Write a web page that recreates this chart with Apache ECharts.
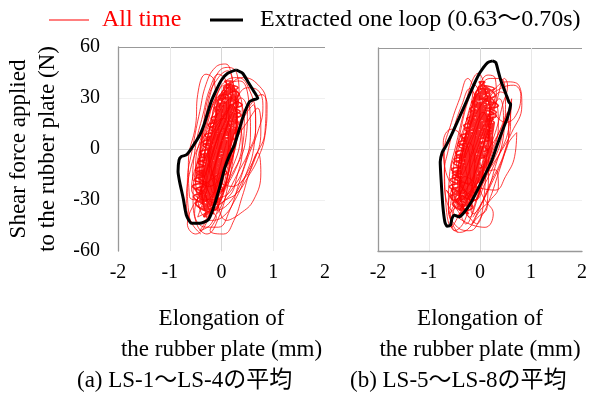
<!DOCTYPE html>
<html>
<head>
<meta charset="utf-8">
<script src="https://cdn.jsdelivr.net/npm/echarts@6/dist/echarts.min.js"></script>
</head>
<body style="margin:0;background:#fff;">
<div id="chart" style="width:590px;height:394px;"></div>
<script type="text/javascript">
// axis ticks (mm / N)
var xTicks = [-2, -1, 0, 1, 2];
var yTicks = [-60, -30, 0, 30, 60];
var panelNames = ['(a) LS-1～LS-4の平均', '(b) LS-5～LS-8の平均'];

// black loop, 0.63-0.70 s, panel (a)
var leftLoop = [
  [0.28,46.5],[0.41,44.5],[0.51,39.6],[0.63,33.7],[0.70,29.8],[0.60,28.8],[0.54,27.8],[0.44,21],[0.35,12.2],
  [0.25,2.4],[0.15,-4],[0.06,-11.4],[-0.04,-23],[-0.17,-35.9],[-0.26,-41.8],[-0.42,-43.7],[-0.58,-43.7],
  [-0.68,-38.8],[-0.74,-29],[-0.81,-19.2],[-0.84,-13.3],[-0.82,-6.5],[-0.78,-4.5],[-0.68,-3.5],[-0.58,0.4],
  [-0.42,8.2],[-0.33,15],[-0.2,27.8],[-0.10,34.7],[0.0,40.6],[0.12,44.5],[0.28,46.5]
];
// black loop, panel (b)
var rightLoop = [
  [0.25,52.4],[0.31,51.4],[0.36,46],[0.41,40.6],[0.51,32.7],[0.57,27.8],[0.60,26.9],[0.54,19],[0.44,11.2],
  [0.33,2],[0.22,-7.4],[0.03,-19.2],[-0.17,-31],[-0.33,-37.8],[-0.42,-39.8],[-0.50,-38.8],[-0.55,-40.8],
  [-0.58,-44.7],[-0.65,-45.3],[-0.69,-42.7],[-0.73,-32.9],[-0.76,-19.2],[-0.78,-7.4],[-0.74,-1.6],[-0.68,1.4],
  [-0.55,9.2],[-0.39,20],[-0.23,30.8],[-0.10,39.6],[0.0,45.5],[0.15,51.4],[0.25,52.4]
];

// all time trace, panel (a): outer loops
var leftAll = [
  [-0.40,-50],[-0.62,-40],[-0.66,-20],[-0.55,2],[-0.42,22],[-0.30,38],[-0.12,48],[0.08,50],[0.2,42],[0.28,25],[0.25,2],[0.12,-22],[-0.05,-40],[-0.28,-50],
  [-0.48,-44],[-0.55,-28],[-0.46,-6],[-0.3,14],[-0.12,30],[0.08,40],[0.32,42],[0.55,34],[0.66,18],[0.62,0],[0.46,-16],[0.26,-30],[0.02,-40],[-0.22,-42],
  [-0.32,-36],[-0.42,-18],[-0.34,4],[-0.14,22],[0.12,36],[0.42,42],[0.7,38],[0.86,28],[0.84,10],[0.66,-4],[0.42,-18],[0.14,-32],[-0.1,-36],
  [-0.22,-28],[-0.34,-12],[-0.28,6],[-0.12,20],[0.06,30],[0.26,34],[0.4,24],[0.36,4],[0.2,-12],[0.02,-26],[-0.16,-34],
  [-0.3,-40],[-0.46,-30],[-0.5,-10],[-0.36,10],[-0.12,28],[0.14,36],[0.3,22],[0.24,0],[0.08,-20],[-0.08,-34],
  [-0.5,-44],[-0.68,-32],[-0.6,-12],[-0.4,4],[-0.16,14],[0.04,18],[0.18,8],[0.14,-12],[-0.02,-30],[-0.2,-44],[-0.42,-48],
  [-0.12,-26],[-0.24,-10],[-0.18,10],[-0.02,26],[0.16,38],[0.36,40],[0.52,30],[0.56,10],[0.44,-10],[0.24,-22],[0.04,-28],
  [-0.34,-30],[-0.38,-14],[-0.24,0],[-0.08,12],[0.12,22],[0.3,28],[0.44,18],[0.38,-2],[0.18,-16],[-0.06,-28],
  [0.0,-20],[0.12,-2],[0.32,14],[0.56,26],[0.78,32],[0.88,26],[0.84,8],[0.7,-6],[0.52,-16],[0.3,-26],[0.08,-30],
  [-0.2,-36],[-0.3,-20],[-0.2,-4],[-0.02,10],[0.14,24],[0.22,38],[0.12,46],[-0.06,42],[-0.26,30],[-0.36,10],[-0.42,-10],[-0.36,-30],
  [-0.58,-24],[-0.44,-6],[-0.2,8],[0.0,18],[0.2,26],[0.3,18],[0.2,-2],[0.0,-16],[-0.2,-28],[-0.44,-34],
  [-0.1,-40],[-0.22,-48],[0.04,-50],[0.24,-42],[0.4,-28],[0.56,-12],[0.7,-2],[0.76,-14],[0.62,-30],[0.36,-38],[0.1,-42],
  [-0.16,-16],[-0.26,0],[-0.16,14],[0.0,24],[0.2,30],[0.3,20],[0.2,4],[0.04,-10],[-0.1,-20],
  [-0.3,-22],[-0.2,-6],[-0.06,8],[0.1,20],[0.06,30],[-0.1,28],[-0.2,16],[-0.3,0],[-0.36,-16],
  [-0.06,-32],[-0.16,-20],[-0.1,-6],[0.04,8],[0.2,16],[0.36,14],[0.4,0],[0.3,-16],[0.14,-28],
  [-0.46,-40],[-0.3,-26],[-0.16,-12],[0.0,4],[0.14,20],[0.1,32],[-0.1,30],[-0.26,16],[-0.42,-4],[-0.52,-24],
  [0.1,-10],[0.26,4],[0.5,16],[0.7,24],[0.76,10],[0.62,-8],[0.42,-18],[0.2,-22],
  [-0.2,-12],[-0.1,0],[0.04,12],[0.14,8],[0.1,-6],[-0.04,-16],[-0.16,-26],[-0.26,-20],
  [-0.56,-18],[-0.5,2],[-0.36,20],[-0.22,36],[-0.06,44],[0.1,38],[0.0,20],[-0.14,0],[-0.3,-14],[-0.5,-30],
  [-0.62,-28],[-0.64,-8],[-0.5,14],[-0.46,32],[-0.3,44],[-0.14,40],[-0.1,20],[-0.2,0],[-0.36,-20],[-0.52,-38],
  [-0.3,-46],[-0.06,-46],[0.16,-36],[0.34,-20],[0.52,-4],[0.7,10],[0.8,24],[0.72,34],[0.5,36],[0.3,30],[0.12,16],
  [-0.04,0],[-0.2,-16],[-0.38,-26],[-0.56,-34],[-0.66,-44],[-0.5,-50],[-0.3,-44],
  [-0.18,-30],[-0.06,-14],[0.08,2],[0.22,18],[0.34,32],[0.3,44],[0.14,48],[-0.04,46],[-0.18,36],[-0.3,20],[-0.4,2],[-0.44,-18],
  [-0.2,-22],[-0.1,-8],[0.06,8],[0.22,22],[0.38,30],[0.5,22],[0.46,4],[0.3,-10],[0.1,-22],[-0.1,-32],
  [-0.36,-24],[-0.3,-8],[-0.14,6],[0.02,18],[0.18,28],[0.14,38],[-0.02,36],[-0.16,22],[-0.28,4],[-0.38,-12],
  [-0.12,-36],[0.02,-24],[0.14,-8],[0.28,8],[0.46,20],[0.62,26],[0.66,12],[0.52,-2],[0.32,-14],[0.12,-26],[-0.08,-38]
];
// all time trace, panel (a): dense middle band
var leftCore = [
  [-0.26,-28],[-0.3,-10],[-0.16,8],[0.04,24],[0.2,30],[0.24,14],[0.1,-6],[-0.06,-22],
  [-0.2,-20],[-0.26,-4],[-0.1,10],[0.1,22],[0.2,16],[0.1,-2],[-0.04,-16],[-0.16,-26],
  [-0.3,-24],[-0.2,-8],[0.0,12],[0.14,26],[0.1,34],[-0.04,20],[-0.16,0],[-0.28,-18],
  [-0.1,-30],[-0.2,-14],[-0.1,4],[0.06,18],[0.24,24],[0.3,10],[0.16,-10],[0.0,-24],
  [-0.14,-18],[-0.04,-2],[0.1,14],[0.0,22],[-0.14,10],[-0.22,-4],[-0.26,-22],[-0.1,-28],
  [0.0,-12],[0.14,4],[0.2,20],[0.06,12],[-0.1,-4],[-0.2,-18],[-0.06,-22],
  [-0.24,-14],[-0.12,2],[0.02,16],[0.12,28],[0.0,32],[-0.12,18],[-0.22,2],[-0.32,-14],[-0.18,-32],
  [-0.04,-14],[0.08,0],[0.22,12],[0.12,-4],[-0.02,-18],[-0.14,-30],[-0.28,-32],[-0.18,-16],[-0.06,-4],
  [-0.42,-30],[-0.1,-26],[-0.36,-20],[-0.04,-16],[-0.3,-10],[0.02,-6],[-0.24,0],[0.08,4],[-0.18,10],[0.14,14],[-0.1,20],[0.2,24],[-0.04,30],[0.24,34],
  [0.3,30],[0.0,26],[0.26,20],[-0.06,16],[0.2,10],[-0.12,6],[0.14,0],[-0.18,-4],[0.08,-10],[-0.24,-14],[0.02,-20],[-0.3,-24],[-0.04,-30],[-0.36,-34],
  [-0.2,-36],[-0.44,-26],[-0.14,-22],[-0.38,-14],[-0.08,-12],[-0.3,-4],[-0.02,-2],[-0.22,6],[0.06,8],[-0.14,16],[0.12,18],[-0.06,26],[0.18,28],[0.04,36],
  [0.16,38],[0.32,26],[0.04,22],[0.28,16],[-0.02,12],[0.22,6],[-0.08,2],[0.16,-4],[-0.14,-8],[0.1,-14],[-0.2,-18],[0.04,-24],[-0.26,-28],[-0.06,-34],[-0.32,-38],
  [-0.34,-40],[-0.16,-32],[-0.4,-24],[-0.12,-18],[-0.34,-12],[-0.04,-8],[-0.26,-2],[0.04,2],[-0.2,8],[0.12,12],[-0.12,18],[0.18,22],[-0.08,28],[0.22,32],[0.06,40],
  [0.2,40],[0.0,32],[0.28,28],[0.02,22],[0.24,18],[-0.04,14],[0.18,8],[-0.1,4],[0.1,-2],[-0.2,-6],[0.06,-12],[-0.26,-16],[0.0,-22],[-0.32,-26],[-0.1,-32],[-0.4,-30],
  [-0.3,-34],[-0.06,-28],[-0.32,-22],[0.0,-18],[-0.28,-12],[0.06,-8],[-0.2,-4],[0.1,0],[-0.14,6],[0.16,10],[-0.08,16],[0.22,20],[0.0,26],[0.26,30],[0.1,36],
  [0.24,36],[-0.02,30],[0.22,24],[-0.08,20],[0.16,14],[-0.14,10],[0.12,4],[-0.2,0],[0.04,-6],[-0.26,-10],[-0.02,-16],[-0.34,-20],[-0.08,-26],[-0.38,-30],[-0.14,-38],
  [-0.5,-32],[-0.16,-28],[-0.56,-22],[-0.06,-18],[-0.5,-12],[0.04,-8],[-0.42,-2],[0.16,2],[-0.32,8],[0.28,12],[-0.2,18],[0.36,22],[-0.08,28],[0.34,32],[0.12,38],
  [0.32,36],[0.0,32],[0.4,26],[-0.12,22],[0.32,16],[-0.24,12],[0.24,6],[-0.36,2],[0.14,-4],[-0.46,-8],[0.02,-14],[-0.52,-18],[-0.1,-24],[-0.54,-28],[-0.24,-34],
  [-0.42,-30],[-0.08,-24],[-0.48,-16],[0.0,-12],[-0.44,-6],[0.1,-2],[-0.36,4],[0.22,8],[-0.26,14],[0.3,18],[-0.14,24],[0.32,28],[0.06,34],
  [0.24,34],[-0.08,28],[0.38,20],[-0.18,16],[0.28,10],[-0.3,6],[0.18,0],[-0.4,-4],[0.08,-10],[-0.48,-14],[-0.02,-20],[-0.5,-24],[-0.16,-30]
];

// all time trace, panel (b): outer loops
var rightAll = [
  [-0.44,-49],[-0.62,-36],[-0.6,-16],[-0.46,4],[-0.3,24],[-0.16,40],[-0.04,45],[0.1,36],[0.2,16],[0.1,-8],[-0.08,-30],[-0.28,-44],
  [-0.36,-40],[-0.54,-28],[-0.5,-6],[-0.3,14],[-0.06,32],[0.2,42],[0.4,42],[0.5,30],[0.46,8],[0.3,-10],[0.1,-28],[-0.14,-38],
  [-0.2,-30],[-0.38,-16],[-0.3,4],[-0.06,22],[0.24,34],[0.52,40],[0.76,38],[0.82,26],[0.62,10],[0.36,-4],[0.1,-20],[-0.1,-30],
  [-0.68,-12],[-0.72,4],[-0.56,12],[-0.36,8],[-0.2,-6],[-0.3,-20],[-0.5,-30],[-0.66,-24],
  [-0.3,-36],[-0.44,-20],[-0.36,0],[-0.16,18],[0.04,30],[0.2,26],[0.16,6],[0.0,-14],[-0.16,-30],
  [0.0,-20],[0.1,-6],[0.3,10],[0.44,26],[0.54,38],[0.48,42],[0.34,30],[0.2,14],[0.04,0],[-0.1,-14],
  [-0.56,-44],[-0.4,-49],[-0.2,-46],[0.0,-36],[0.2,-30],[0.36,-22],[0.3,-12],[0.1,-14],[-0.14,-24],[-0.4,-36],
  [-0.24,-20],[-0.3,-6],[-0.14,10],[0.06,22],[0.16,14],[0.06,-6],[-0.1,-20],[-0.2,-28],
  [-0.46,-6],[-0.36,14],[-0.22,30],[-0.1,38],[0.0,26],[-0.1,6],[-0.26,-10],[-0.4,-20],
  [-0.1,-28],[-0.2,-12],[-0.04,6],[0.16,20],[0.3,28],[0.36,14],[0.2,-6],[0.04,-20],
  [0.1,-4],[0.3,6],[0.5,18],[0.62,30],[0.56,12],[0.42,0],[0.22,-10],[0.06,-16],
  [-0.6,-38],[-0.5,-20],[-0.34,-6],[-0.2,4],[-0.1,-10],[-0.2,-26],[-0.4,-38],[-0.56,-46],
  [-0.7,-2],[-0.56,16],[-0.4,30],[-0.24,42],[-0.14,36],[-0.26,18],[-0.4,2],[-0.56,-10],
  [0.3,-24],[0.5,-16],[0.68,-4],[0.72,10],[0.56,4],[0.4,-8],[0.2,-20],[0.0,-34],[-0.16,-44],[-0.04,-40],[0.14,-34],
  [0.2,30],[0.4,36],[0.66,38],[0.8,32],[0.7,20],[0.5,16],[0.3,20],
  [-0.06,-44],[-0.26,-38],[-0.4,-26],[-0.3,-16],[-0.1,-20],[0.1,-30],[0.26,-38],[0.1,-46],
  [-0.66,-30],[-0.7,-14],[-0.62,0],[-0.5,14],[-0.36,26],[-0.2,36],[-0.1,30],[-0.2,12],[-0.36,-4],[-0.52,-20],[-0.62,-34],
  [-0.44,-46],[-0.2,-48],[0.02,-40],[0.18,-30],[0.34,-16],[0.5,0],[0.6,16],[0.56,30],[0.4,34],[0.24,26],[0.08,12],
  [-0.08,-2],[-0.24,-16],[-0.42,-28],[-0.58,-40],[-0.5,-48],[-0.3,-42],
  [-0.18,-26],[-0.06,-10],[0.08,4],[0.2,18],[0.32,32],[0.3,42],[0.16,44],[0.02,40],[-0.12,28],[-0.24,14],[-0.34,-2],[-0.4,-18],
  [-0.2,-20],[-0.08,-6],[0.08,8],[0.22,22],[0.38,30],[0.46,20],[0.4,4],[0.24,-8],[0.06,-20],[-0.12,-30],
  [-0.4,-24],[-0.32,-8],[-0.18,4],[-0.02,16],[0.12,26],[0.06,36],[-0.08,34],[-0.2,20],[-0.32,4],[-0.42,-12],
  [-0.2,-40],[-0.04,-28],[0.1,-14],[0.24,0],[0.4,12],[0.54,22],[0.56,8],[0.44,-6],[0.26,-18],[0.06,-30],[-0.14,-40]
];
// all time trace, panel (b): dense middle band
var rightCore = [
  [-0.3,-26],[-0.24,-8],[-0.1,8],[0.06,20],[0.12,12],[0.0,-6],[-0.16,-18],[-0.26,-28],
  [-0.2,-14],[-0.1,0],[0.06,16],[0.14,26],[0.04,28],[-0.1,14],[-0.2,0],[-0.3,-12],
  [-0.36,-20],[-0.2,-4],[0.0,10],[0.2,18],[0.24,4],[0.1,-10],[-0.1,-22],[-0.3,-30],
  [-0.14,-26],[-0.04,-8],[0.1,4],[0.0,-2],[-0.14,-10],[-0.26,-20],[-0.1,-30],[0.0,-22],
  [-0.26,-6],[-0.1,10],[0.06,28],[-0.04,32],[-0.16,18],[-0.26,2],[-0.36,-10],[-0.2,-12],
  [-0.16,-34],[-0.24,-20],[-0.12,-6],[0.02,8],[0.16,14],[0.2,0],[0.06,-14],[-0.06,-24],
  [-0.3,-16],[-0.18,0],[-0.04,14],[0.08,24],[-0.02,20],[-0.14,6],[-0.24,-8],[-0.34,-22],
  [0.0,-4],[0.12,8],[0.28,16],[0.18,0],[0.04,-12],[-0.12,-20],[-0.22,-12],[-0.08,2],
  [-0.5,-30],[-0.2,-26],[-0.44,-20],[-0.14,-16],[-0.38,-10],[-0.08,-6],[-0.32,0],[-0.02,4],[-0.26,10],[0.04,14],[-0.18,20],[0.1,24],[-0.12,30],[0.14,34],
  [0.2,30],[-0.08,26],[0.16,20],[-0.14,16],[0.1,10],[-0.2,6],[0.04,0],[-0.26,-4],[-0.02,-10],[-0.32,-14],[-0.08,-20],[-0.38,-24],[-0.12,-30],[-0.44,-34],
  [-0.28,-36],[-0.52,-26],[-0.22,-22],[-0.46,-14],[-0.16,-12],[-0.38,-4],[-0.1,-2],[-0.3,6],[-0.02,8],[-0.22,16],[0.04,18],[-0.14,26],[0.1,28],[-0.04,36],
  [0.06,38],[0.22,26],[-0.06,22],[0.18,16],[-0.1,12],[0.12,6],[-0.16,2],[0.06,-4],[-0.22,-8],[0.0,-14],[-0.28,-18],[-0.04,-24],[-0.34,-28],[-0.14,-34],[-0.4,-38],
  [-0.42,-40],[-0.24,-32],[-0.48,-24],[-0.2,-18],[-0.42,-12],[-0.12,-8],[-0.34,-2],[-0.04,2],[-0.28,8],[0.02,12],[-0.2,18],[0.08,22],[-0.16,28],[0.12,32],[-0.02,40],
  [0.1,40],[-0.1,32],[0.18,28],[-0.08,22],[0.14,18],[-0.12,14],[0.08,8],[-0.18,4],[0.02,-2],[-0.28,-6],[-0.02,-12],[-0.34,-16],[-0.08,-22],[-0.4,-26],[-0.18,-32],[-0.46,-30],
  [-0.38,-34],[-0.14,-28],[-0.4,-22],[-0.08,-18],[-0.36,-12],[-0.02,-8],[-0.3,-4],[0.02,0],[-0.24,6],[0.08,10],[-0.18,16],[0.12,20],[-0.08,26],[0.16,30],[0.0,36],
  [0.14,36],[-0.12,30],[0.12,24],[-0.16,20],[0.06,14],[-0.22,10],[0.02,4],[-0.28,0],[-0.04,-6],[-0.34,-10],[-0.1,-16],[-0.42,-20],[-0.16,-26],[-0.46,-30],[-0.22,-38],
  [-0.54,-32],[-0.2,-28],[-0.6,-22],[-0.1,-18],[-0.56,-12],[0.0,-8],[-0.48,-2],[0.12,2],[-0.38,8],[0.24,12],[-0.26,18],[0.32,22],[-0.14,28],[0.3,32],[0.06,38],
  [0.28,36],[-0.06,32],[0.36,26],[-0.18,22],[0.28,16],[-0.3,12],[0.2,6],[-0.42,2],[0.1,-4],[-0.52,-8],[-0.02,-14],[-0.58,-18],[-0.14,-24],[-0.58,-28],[-0.3,-34],
  [-0.44,-30],[-0.12,-24],[-0.54,-16],[-0.04,-12],[-0.5,-6],[0.06,-2],[-0.42,4],[0.18,8],[-0.32,14],[0.26,18],[-0.2,24],[0.28,28],[0.0,34],
  [0.2,34],[-0.14,28],[0.32,20],[-0.24,16],[0.24,10],[-0.36,6],[0.14,0],[-0.46,-4],[0.04,-10],[-0.54,-14],[-0.08,-20],[-0.56,-24],[-0.22,-30]
];

var FONT = "'Liberation Serif', 'Times New Roman', 'Noto Sans CJK JP', serif";
var NAME_ALL = 'All time';
var NAME_LOOP = 'Extracted one loop (0.63～0.70s)';

var myChart = echarts.init(document.getElementById('chart'));

function xAxisFor(idx, showLine) {
  return {
    type: 'value', gridIndex: idx,
    min: xTicks[0], max: xTicks[xTicks.length - 1], interval: 1,
    axisLine: { show: showLine, onZero: false, lineStyle: { color: '#999', width: 1.3 } },
    axisTick: { show: false },
    axisLabel: { fontSize: 20, color: '#000', fontFamily: FONT, margin: 12 },
    splitLine: { show: true, lineStyle: { width: 1, color: ['rgba(0,0,0,0)', '#e8e8e8', '#d6d6d6', '#e8e8e8', 'rgba(0,0,0,0)'] } },
    name: 'Elongation of\nthe rubber plate (mm)',
    nameLocation: 'middle', nameGap: 52,
    nameTextStyle: { fontSize: 23, color: '#000', fontFamily: FONT, lineHeight: 31 }
  };
}

function yAxisFor(idx, showLabels) {
  var ax = {
    type: 'value', gridIndex: idx,
    min: yTicks[0], max: yTicks[yTicks.length - 1], interval: 30,
    axisLine: { show: true, onZero: false, lineStyle: { color: '#999', width: 1.3 } },
    axisTick: { show: false },
    axisLabel: { show: showLabels, fontSize: 20, color: '#000', fontFamily: FONT, margin: 18 },
    splitLine: { show: true, lineStyle: { width: 1, color: [idx === 1 ? '#999' : 'rgba(0,0,0,0)', '#f0f0f0', '#d6d6d6', '#f0f0f0', '#999'] } }
  };
  if (showLabels) {
    ax.name = 'Shear force applied\nto the rubber plate (N)';
    ax.nameLocation = 'middle';
    ax.nameRotate = 90;
    ax.nameGap = 56;
    ax.nameTextStyle = { fontSize: 23, color: '#000', fontFamily: FONT, lineHeight: 29 };
  }
  return ax;
}

function redSeries(idx, data, w) {
  return {
    name: NAME_ALL, type: 'line', xAxisIndex: idx, yAxisIndex: idx,
    data: data, showSymbol: false, smooth: 0.45, z: 2, silent: true,
    itemStyle: { color: '#ff0000' },
    lineStyle: { color: '#ff0000', width: w, opacity: 0.85 }
  };
}

function loopSeries(idx, data) {
  return {
    name: NAME_LOOP, type: 'line', xAxisIndex: idx, yAxisIndex: idx,
    data: data, showSymbol: false, smooth: 0.2, z: 3, silent: true,
    itemStyle: { color: '#000' },
    lineStyle: { color: '#000', width: 3 }
  };
}

var option = {
  animation: false,
  backgroundColor: '#fff',
  legend: [
    { left: 49, top: 8, padding: 0, data: [NAME_ALL], icon: 'rect', itemWidth: 40, itemHeight: 1,
      textStyle: { color: '#ff0000', fontSize: 24, fontFamily: FONT, padding: [0, 0, 0, 8] } },
    { left: 210, top: 8, padding: 0, data: [NAME_LOOP], icon: 'rect', itemWidth: 33, itemHeight: 3,
      textStyle: { color: '#000', fontSize: 24, fontFamily: FONT, padding: [0, 0, 0, 12] } }
  ],
  grid: [
    { left: 118, top: 47, width: 207, height: 204 },
    { left: 378, top: 48, width: 205, height: 203 }
  ],
  xAxis: [xAxisFor(0, false), xAxisFor(1, true)],
  yAxis: [yAxisFor(0, true), yAxisFor(1, false)],
  series: [
    redSeries(0, leftAll, 0.9), redSeries(0, leftCore, 1.7), loopSeries(0, leftLoop),
    redSeries(1, rightAll, 0.9), redSeries(1, rightCore, 1.7), loopSeries(1, rightLoop)
  ],
  graphic: [
    { type: 'text', left: 77, top: 369, style: { text: panelNames[0], fontSize: 23, fontFamily: FONT, fill: '#000' } },
    { type: 'text', left: 350, top: 369, style: { text: panelNames[1], fontSize: 23, fontFamily: FONT, fill: '#000' } }
  ]
};
myChart.setOption(option);
</script>
</body>
</html>
